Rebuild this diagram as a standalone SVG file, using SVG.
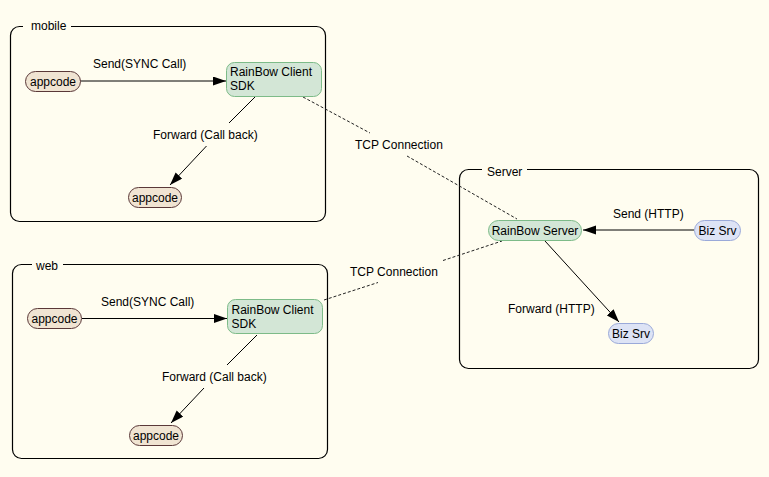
<svg xmlns="http://www.w3.org/2000/svg" width="769" height="477" viewBox="0 0 769 477">
<defs>
<style>
text{font-family:"Liberation Sans",Arial,sans-serif;font-size:12px;fill:#000}
.frame{fill:none;stroke:#000;stroke-width:1.2}
.gap{fill:#fffdf0;stroke:none}
.app{fill:#f0e4d2;stroke:#5a3838;stroke-width:1}
.green{fill:#d3e6d6;stroke:#7dbb88;stroke-width:1}
.blue{fill:#dde3f5;stroke:#9aa9d9;stroke-width:1}
.edge{fill:none;stroke:#000;stroke-width:1}
.dash{fill:none;stroke:#222;stroke-width:1;stroke-dasharray:3,2}
.mid{text-anchor:middle}
</style>
<marker id="arr" markerUnits="userSpaceOnUse" markerWidth="14" markerHeight="10" refX="13" refY="4.5" orient="auto">
<path d="M0,0 L13,4.5 L0,9 z" fill="#000"/>
</marker>
</defs>
<rect x="0" y="0" width="769" height="477" fill="#fffdf0"/>

<g id="cluster-mobile">
<rect class="frame" x="10.5" y="26.5" width="315" height="195" rx="9"/>
<rect class="gap" x="23" y="20" width="48" height="12"/>
<text x="31" y="30">mobile</text>
</g>
<g id="cluster-web">
<rect class="frame" x="12.5" y="264.5" width="315" height="194" rx="9"/>
<rect class="gap" x="32" y="258" width="31" height="12"/>
<text x="36" y="270">web</text>
</g>
<g id="cluster-server">
<rect class="frame" x="459.5" y="169.5" width="299" height="199" rx="9"/>
<rect class="gap" x="482" y="163" width="45" height="12"/>
<text x="487" y="175.5">Server</text>
</g>

<g id="connectors">
<line class="edge" x1="80" y1="81" x2="226" y2="81" marker-end="url(#arr)"/>
<text x="93" y="68">Send(SYNC Call)</text>
<line class="edge" x1="255" y1="97" x2="229" y2="123"/>
<line class="edge" x1="206.5" y1="146" x2="170" y2="185" marker-end="url(#arr)"/>
<text x="153" y="139">Forward (Call back)</text>

<line class="edge" x1="82" y1="318.5" x2="227" y2="318.5" marker-end="url(#arr)"/>
<text x="101" y="306">Send(SYNC Call)</text>
<line class="edge" x1="257" y1="335" x2="227" y2="365"/>
<line class="edge" x1="204" y1="388" x2="171" y2="423" marker-end="url(#arr)"/>
<text x="162" y="380.5">Forward (Call back)</text>

<line class="edge" x1="694" y1="230" x2="583" y2="230" marker-end="url(#arr)"/>
<text x="613" y="218">Send (HTTP)</text>
<line class="edge" x1="545" y1="241" x2="619" y2="322" marker-end="url(#arr)"/>
<text x="508" y="313">Forward (HTTP)</text>

<line class="dash" x1="303" y1="97" x2="370" y2="133"/>
<line class="dash" x1="407" y1="156" x2="517" y2="219"/>
<text x="355" y="149">TCP Connection</text>
<line class="dash" x1="324" y1="300" x2="378" y2="282.5"/>
<line class="dash" x1="443" y1="260.5" x2="502" y2="241"/>
<text x="350" y="276">TCP Connection</text>
</g>

<g id="mobile-appcode-1">
<rect class="app" x="25.5" y="71.5" width="55" height="20" rx="10"/>
<text class="mid" x="53" y="85.5">appcode</text>
</g>
<g id="mobile-sdk">
<rect class="green" x="226.5" y="62.5" width="95" height="34" rx="8"/>
<text x="230" y="76">RainBow Client</text>
<text x="230" y="90">SDK</text>
</g>
<g id="mobile-appcode-2">
<rect class="app" x="128.5" y="187.5" width="53" height="20" rx="10"/>
<text class="mid" x="155" y="201.5">appcode</text>
</g>

<g id="web-appcode-1">
<rect class="app" x="27.5" y="308.5" width="54" height="20" rx="10"/>
<text class="mid" x="54.5" y="323">appcode</text>
</g>
<g id="web-sdk">
<rect class="green" x="227.5" y="299.5" width="95" height="34" rx="8"/>
<text x="231.5" y="314">RainBow Client</text>
<text x="231.5" y="328">SDK</text>
</g>
<g id="web-appcode-2">
<rect class="app" x="129.5" y="425.5" width="53" height="20" rx="10"/>
<text class="mid" x="156" y="439.5">appcode</text>
</g>

<g id="rainbow-server">
<rect class="green" x="488.5" y="220.5" width="93" height="20" rx="10"/>
<text class="mid" x="535" y="234.5">RainBow Server</text>
</g>
<g id="biz-srv-1">
<rect class="blue" x="694.5" y="220.5" width="46" height="20" rx="10"/>
<text class="mid" x="717.5" y="234.5">Biz Srv</text>
</g>
<g id="biz-srv-2">
<rect class="blue" x="608.5" y="323.5" width="45" height="20" rx="10"/>
<text class="mid" x="631" y="337.5">Biz Srv</text>
</g>
</svg>
